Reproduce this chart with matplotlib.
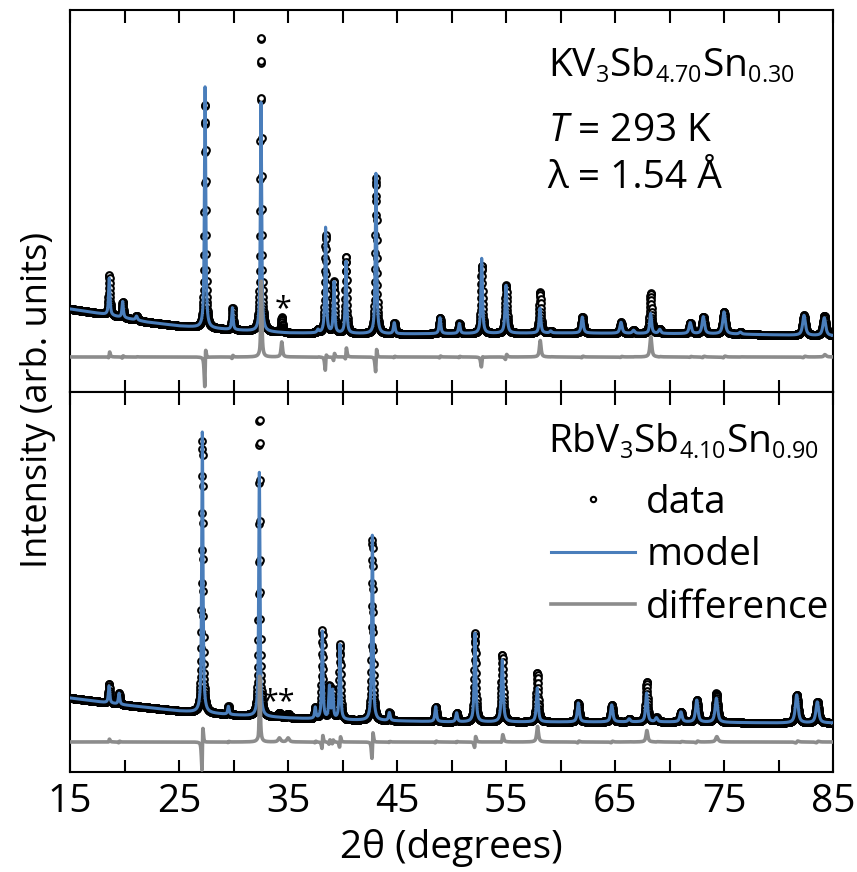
import numpy as np
import matplotlib
matplotlib.use("Agg")
import matplotlib.pyplot as plt
import matplotlib._mathtext as mathtext_internal
from matplotlib.ticker import MultipleLocator

plt.rcParams['font.family'] = ['Open Sans', 'DejaVu Sans']
plt.rcParams['mathtext.fontset'] = 'custom'
plt.rcParams['mathtext.rm'] = 'Open Sans'
plt.rcParams['mathtext.it'] = 'Open Sans:italic'
# subscripts in the original are a bit smaller than mathtext's default
mathtext_internal.SHRINK_FACTOR = 0.6

# === KV3Sb4.70Sn0.30 (top panel) ===
k_bg_x = [15, 18, 20, 22, 25, 30, 35, 45, 60, 75, 85]
k_bg_y = [83, 78, 74, 70, 66, 62, 59, 58, 59, 58, 56]
k_pos = [18.6, 19.83, 21.1, 27.39, 29.9, 32.52, 34.42, 37.75, 38.45, 39.22, 40.32,
         43.07, 44.75, 48.94, 50.72, 52.77, 55.0, 58.12, 59.1, 62.0, 65.55, 66.7,
         68.27, 69.1, 71.9, 73.1, 75.0, 76.5, 82.34, 84.2]
k_fwhm = [0.15, 0.15, 0.2, 0.14, 0.15, 0.14, 0.16, 0.2, 0.15, 0.15, 0.15,
          0.15, 0.18, 0.18, 0.18, 0.17, 0.2, 0.18, 0.2, 0.22, 0.24, 0.24,
          0.2, 0.24, 0.25, 0.26, 0.28, 0.26, 0.3, 0.3]
k_model = [37, 16, 4, 241, 22, 229, 0, 3, 106, 51, 72,
           161, 11, 16, 10, 75, 48, 25, 2, 16, 11, 3,
           20, 4, 11, 17, 22, 2, 20, 18]
k_data = [40, 16, 4, 225, 22, 296, 15, 3, 98, 51, 77,
          156, 11, 16, 10, 68, 48, 41, 2, 16, 11, 3,
          40, 4, 11, 17, 22, 2, 20, 20]
k_diff_base = 35

# === RbV3Sb4.10Sn0.90 (bottom panel) ===
rb_bg_x = [15, 20, 25, 30, 35, 40, 50, 60, 70, 80, 85]
rb_bg_y = [74, 67, 61, 57, 54, 52, 50, 50, 50, 49, 49]
rb_pos = [18.58, 19.5, 27.14, 29.53, 32.37, 34.2, 35.0, 37.5, 38.15, 38.8, 39.1,
          39.77, 42.74, 44.3, 48.55, 50.47, 52.16, 54.66, 57.87, 61.63, 64.7,
          66.3, 67.9, 68.8, 71.05, 72.5, 74.3, 81.67, 83.56]
rb_fwhm = [0.15, 0.15, 0.14, 0.15, 0.14, 0.26, 0.26, 0.15, 0.14, 0.15, 0.15,
           0.15, 0.15, 0.18, 0.18, 0.18, 0.17, 0.2, 0.2, 0.22, 0.24,
           0.24, 0.21, 0.24, 0.25, 0.26, 0.28, 0.3, 0.3]
rb_model = [17, 11, 282, 8, 244, 0, 0, 11, 88, 32, 28,
            75, 186, 8, 15, 9, 89, 62, 34, 19, 17,
            3, 29, 4, 10, 22, 24, 28, 21]
rb_data = [19, 11, 272, 8, 299, 4, 4, 11, 88, 32, 28,
           75, 181, 8, 15, 9, 89, 67, 49, 19, 17,
           3, 40, 4, 10, 22, 29, 28, 21]
rb_diff_base = 30

data_shift = 0.008   # small 2theta offset of measured peaks vs. refined model
two_theta = np.arange(15, 85.001, 0.015)

BLUE = '#4a7ebb'
GREY = '#8c8c8c'


def profile(x, pos, fwhm, amp, bg_x, bg_y, shift=0.0, eta=0.8):
    y = np.interp(x, bg_x, bg_y).astype(float)
    for p, w, a in zip(pos, fwhm, amp):
        d = (x - p - shift) / w
        lor = 1.0 / (1.0 + 4 * d ** 2)
        gau = np.exp(-4 * np.log(2) * d ** 2)
        y += a * (eta * lor + (1 - eta) * gau)
    return y


fig = plt.figure(figsize=(8.57, 8.72), dpi=100)
ax_top = fig.add_axes([0.0817, 0.5505, 0.8903, 0.4381])
ax_bot = fig.add_axes([0.0817, 0.1147, 0.8903, 0.4358], sharex=ax_top)

panels = [
    (ax_top, k_pos, k_fwhm, k_model, k_data, k_bg_x, k_bg_y, k_diff_base, 382),
    (ax_bot, rb_pos, rb_fwhm, rb_model, rb_data, rb_bg_x, rb_bg_y, rb_diff_base, 380),
]
for ax, pos, fw, mod, dat, bx, by, dbase, ytop in panels:
    y_model = profile(two_theta, pos, fw, mod, bx, by)
    y_data = profile(two_theta, pos, fw, dat, bx, by, data_shift)
    ax.plot(two_theta, y_data, 'o', mfc='white', mec='black', ms=4.8, mew=1.5,
            label='data', zorder=2)
    ax.plot(two_theta, y_model, '-', color=BLUE, lw=2.2, label='model', zorder=3)
    ax.plot(two_theta, y_data - y_model + dbase, '-', color=GREY, lw=2.6,
            label='difference', zorder=4)
    ax.set_xlim(15, 85)
    ax.set_ylim(0, ytop)
    ax.set_yticks([])
    ax.xaxis.set_major_locator(MultipleLocator(10))
    ax.xaxis.set_minor_locator(MultipleLocator(5))
    ax.set_xticks(np.arange(15, 86, 10))
    ax.tick_params(axis='x', which='both', direction='in', top=True, bottom=True,
                   length=9, width=1.5, labelsize=28, pad=8)
    for s in ax.spines.values():
        s.set_linewidth(1.5)

ax_top.tick_params(axis='x', labelbottom=False)

ax_top.text(0.626, 0.825, r'KV$_3$Sb$_{4.70}$Sn$_{0.30}$', transform=ax_top.transAxes,
            fontsize=28, va='baseline', ha='left')
ax_top.text(0.626, 0.657, r'$T$ = 293 K', transform=ax_top.transAxes,
            fontsize=28, va='baseline', ha='left')
ax_top.text(0.626, 0.534, 'λ = 1.54 Å', transform=ax_top.transAxes,
            fontsize=28, va='baseline', ha='left')
ax_top.text(34.54, 83, '*', fontsize=22, ha='center', va='center')

ax_bot.text(0.626, 0.839, r'RbV$_3$Sb$_{4.10}$Sn$_{0.90}$', transform=ax_bot.transAxes,
            fontsize=28, va='baseline', ha='left')
ax_bot.text(34.1, 70, '**', fontsize=22, ha='center', va='center')
leg = ax_bot.legend(loc='upper left', bbox_to_anchor=(0.61, 0.80), frameon=False,
                    fontsize=28, handlelength=2.15, handletextpad=0.3,
                    labelspacing=0.38, borderaxespad=0, numpoints=1,
                    markerscale=0.8)

ax_bot.set_xlabel('2θ (degrees)', fontsize=28, labelpad=6)
fig.text(0.044, 0.541, 'Intensity (arb. units)', rotation=90, fontsize=26,
         ha='center', va='center')

fig.savefig('out.png', dpi=100)
